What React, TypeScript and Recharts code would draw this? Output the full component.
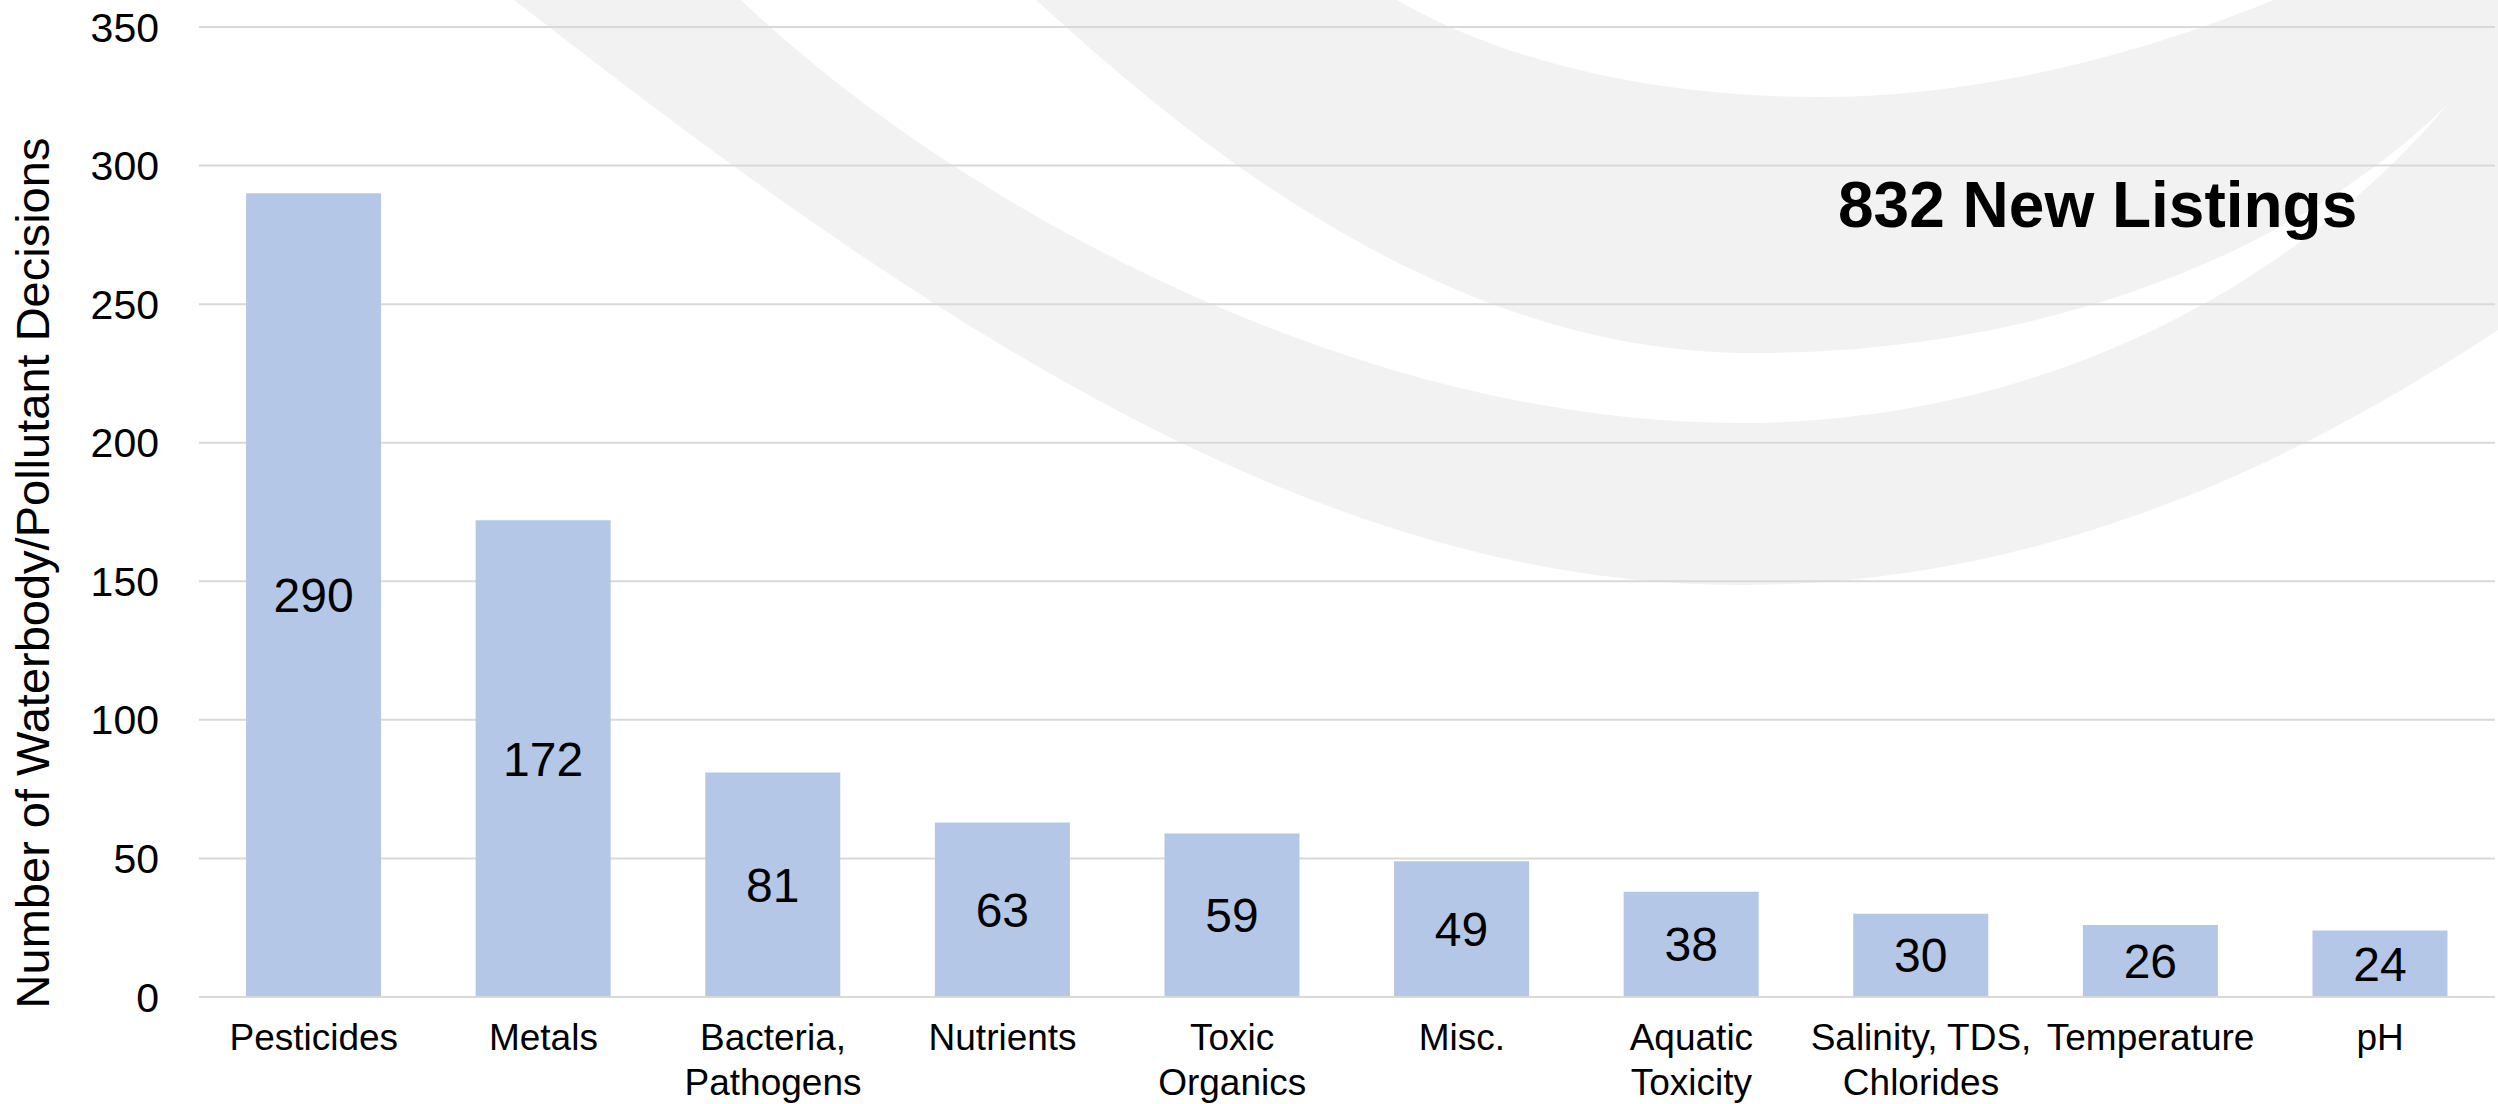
import React from "react";
import { BarChart, Bar, XAxis, YAxis, CartesianGrid, LabelList } from "recharts";

const categories = [
  "Pesticides",
  "Metals",
  "Bacteria,\nPathogens",
  "Nutrients",
  "Toxic\nOrganics",
  "Misc.",
  "Aquatic\nToxicity",
  "Salinity, TDS,\nChlorides",
  "Temperature",
  "pH",
];
const decisions = [290, 172, 81, 63, 59, 49, 38, 30, 26, 24];
const yTicks = [0, 50, 100, 150, 200, 250, 300, 350];
const yTitle = "Number of Waterbody/Pollutant Decisions";
const annotation = "832 New Listings";

const data = categories.map((c, i) => ({ category: c, value: decisions[i] }));

const FONT = "'Liberation Sans', Arial, Helvetica, sans-serif";
const W = 2498;
const H = 1104;

const XTick = (props: any) => {
  const { x, y, payload } = props;
  const lines = String(payload.value).split("\n");
  return (
    <text x={x} y={y} textAnchor="middle" fontSize={37} fill="#000" fontFamily={FONT}>
      {lines.map((l, i) => (
        <tspan key={i} x={x} dy={i === 0 ? 53 : 45}>
          {l}
        </tspan>
      ))}
    </text>
  );
};

const YTitle = () => (
  <text
    x={32}
    y={573}
    transform="rotate(-90 32 573)"
    textAnchor="middle"
    dominantBaseline="central"
    fontSize={47}
    fill="#000"
    fontFamily={FONT}
  >
    {yTitle}
  </text>
);

export default function App() {
  return (
    <div style={{ position: "absolute", left: 0, top: 0, width: W, height: H, background: "#fff", overflow: "hidden" }}>
      <svg width={W} height={H} style={{ position: "absolute", left: 0, top: 0 }}>
        <path
          d="M 514 0 C 900 300, 1300 585, 1739 585 C 2050 585, 2300 460, 2498 330 L 2498 0 Z"
          fill="#f2f2f3"
        />
        <path
          d="M 741 0 C 950 200, 1350 423, 1739 423 C 2050 423, 2300 280, 2448 104 C 2300 250, 2050 353, 1752 353 C 1450 353, 1200 150, 1036 0 Z"
          fill="#ffffff"
        />
        <path d="M 1397 0 C 1500 60, 1650 97, 1819 97 C 1990 97, 2150 50, 2274 0 Z" fill="#ffffff" />
        <text x={1838} y={227} fontSize={64} fontWeight="bold" fill="#000" fontFamily={FONT}>
          {annotation}
        </text>
        <YTitle />
      </svg>
      <div style={{ position: "absolute", left: 0, top: 0 }}>
        <BarChart
          width={W}
          height={H}
          data={data}
          margin={{ top: 27, right: 3, bottom: 7, left: 0 }}
          barCategoryGap="20.5%"
        >
          <CartesianGrid vertical={false} stroke="#d9d9d9" strokeWidth={2} />
          <XAxis
            dataKey="category"
            interval={0}
            height={100}
            tickSize={0}
            tickMargin={0}
            tickLine={false}
            axisLine={{ stroke: "#d9d9d9", strokeWidth: 2 }}
            tick={<XTick />}
          />
          <YAxis
            width={199}
            domain={[0, 350]}
            ticks={yTicks}
            interval={0}
            tickSize={0}
            tickMargin={40}
            tickLine={false}
            axisLine={false}
            tick={{ fontSize: 41, fill: "#000", fontFamily: FONT }}
          />
          <Bar dataKey="value" fill="#b4c7e7" isAnimationActive={false}>
            <LabelList dataKey="value" position="center" fontSize={48} fill="#000" fontFamily={FONT} />
          </Bar>
        </BarChart>
      </div>
    </div>
  );
}
